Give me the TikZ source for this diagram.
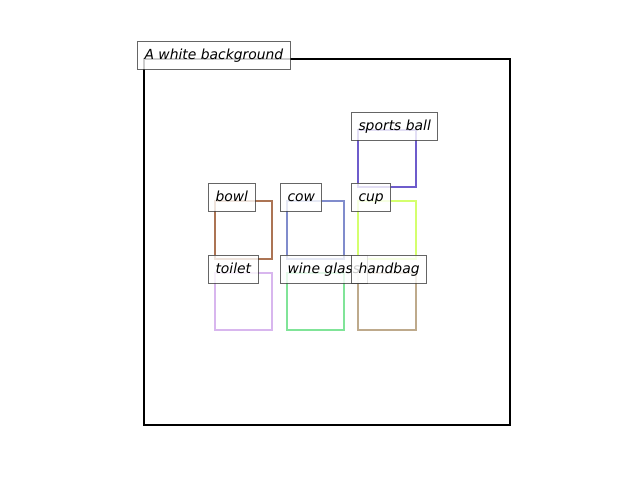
\documentclass[tikz,border=0pt]{standalone}
\usepackage{fontspec}
\setmainfont{DejaVu Sans}
\definecolor{cbowl}{RGB}{172,116,84}
\definecolor{ccow}{RGB}{128,140,204}
\definecolor{ccup}{RGB}{212,255,110}
\definecolor{cball}{RGB}{110,92,204}
\definecolor{ctoilet}{RGB}{216,182,238}
\definecolor{cwine}{RGB}{128,228,152}
\definecolor{cbag}{RGB}{190,170,140}
\begin{document}
\begin{tikzpicture}[x=0.72pt,y=-0.72pt,
  bbox/.style={draw, line width=1.44pt, line join=miter},
  lbl/.style={anchor=base west, draw=black!75, draw opacity=0.8, fill=white, fill opacity=0.8, text opacity=1,
    line width=0.72pt, inner ysep=0pt, inner xsep=5.04pt, text height=12.96pt, text depth=7.2pt,
    font=\fontsize{10pt}{12pt}\selectfont\itshape}]
\useasboundingbox (0,0) rectangle (640,480);
\draw[line width=1.44pt] (144,59) rectangle (510,425);
\draw[bbox, cball] (358,130) rectangle (416,187);
\draw[bbox, cbowl] (215,201) rectangle (272,259);
\draw[bbox, ccow] (287,201) rectangle (344,259);
\draw[bbox, ccup] (358,201) rectangle (416,259);
\draw[bbox, ctoilet] (215,273) rectangle (272,330);
\draw[bbox, cwine] (287,273) rectangle (344,330);
\draw[bbox, cbag] (358,273) rectangle (416,330);
\node[lbl] (title) at (137,59) {A white background};
\node[lbl] (lball) at (351,130) {sports ball};
\node[lbl] (lbowl) at (208,201) {bowl};
\node[lbl] (lcow) at (280,201) {cow};
\node[lbl] (lcup) at (351,201) {cup};
\node[lbl] (ltoilet) at (208,273) {toilet};
\node[lbl] (lwine) at (280,273) {wine glass};
\node[lbl] (lbag) at (351,273) {handbag};
\end{tikzpicture}
\end{document}
